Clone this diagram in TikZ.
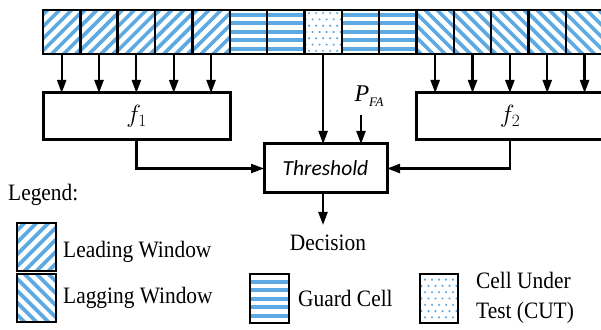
\documentclass[tikz,border=0pt]{standalone}
\usepackage{fontspec}
\setmainfont{Liberation Serif}
\newfontfamily\thfont{Carlito}
\usetikzlibrary{arrows.meta}
\definecolor{hatch}{RGB}{93,170,226}
% slightly condensed serif lettering
\newcommand{\narrowtext}[1]{\scalebox{0.91}[1]{#1}}
\tikzset{
  cell/.style={draw=black, line width=2.5pt, minimum width=37.35pt, minimum height=44pt,
    inner sep=0pt, outer sep=0pt},
  stripe/.style={draw=hatch, line width=3.6pt},
  lead/.style={cell, path picture={
      \foreach \k in {-6,...,6}
        \draw[stripe] ([xshift=\k*12pt]path picture bounding box.center) ++(-40pt,-40pt) -- ++(80pt,80pt);}},
  lag/.style={cell, path picture={
      \foreach \k in {-6,...,6}
        \draw[stripe] ([xshift=\k*12pt]path picture bounding box.center) ++(-40pt,40pt) -- ++(80pt,-80pt);}},
  guard/.style={cell, path picture={
      \foreach \k in {-3,...,3}
        \draw[draw=hatch, line width=4pt] ([yshift=\k*8.5pt]path picture bounding box.center) ++(-30pt,0) -- ++(60pt,0);}},
  cut/.style={cell, path picture={
      \foreach \r in {-3,...,3}
        \foreach \c in {-3,...,3}
          \fill[hatch] ([xshift={\c*7pt+mod(\r+3,2)*3.5pt}, yshift=\r*6.3pt]path picture bounding box.center) circle (1.2pt);}},
  block/.style={draw=black, line width=3pt, inner sep=0pt, outer sep=0pt, minimum height=47pt},
  arr/.style={line width=2.2pt, -{Triangle[length=13pt,width=9pt]}},
  txt/.style={font=\fontsize{23.5}{30}\selectfont, inner sep=0pt},
}
\begin{document}
\begin{tikzpicture}[x=1pt,y=1pt]
  \useasboundingbox (0,0) rectangle (601,329);
  \clip (0,0) rectangle (601,329);

  % row of cells: leading window, guard cells, cell under test, guard cells, lagging window
  \foreach \i/\t in {0/lead,1/lead,2/lead,3/lead,4/lead,5/guard,6/guard,7/cut,
                     8/guard,9/guard,10/lag,11/lag,12/lag,13/lag,14/lag}
    \node[\t] (c\i) at ({43+37.35*(\i+0.5)},297) {};

  % processing blocks
  \node[block, minimum width=187pt] (f1) at (136.5,212.5) {\fontsize{26}{30}\selectfont$f_1$};
  \node[block, minimum width=187pt] (f2) at (510,212.5) {\fontsize{26}{30}\selectfont$f_2$};
  \node[block, minimum width=123pt, minimum height=49pt] (th) at (325.5,160.5)
    {\fontsize{21.5}{26}\selectfont\thfont\itshape Threshold};

  % window cells feed the blocks
  \foreach \i in {0,...,4}
    \draw[arr] (c\i.south) -- (c\i.south |- f1.north);
  \foreach \i in {10,...,14}
    \draw[arr] (c\i.south) -- (c\i.south |- f2.north);

  % cell under test and false-alarm probability into the threshold
  \draw[arr] (c7.south) -- (c7.south |- th.north);
  \coordinate (pfa) at (361,214);
  \node[txt, anchor=south] (pfalab) at (369,222)
    {\fontsize{24}{30}\selectfont\itshape P\raisebox{-0.45ex}{\fontsize{13}{13}\selectfont FA}};
  \draw[arr] (pfa) -- (pfa |- th.north);

  % block outputs into the threshold
  \draw[arr] (f1.south) |- (th.west);
  \draw[arr] (f2.south) |- (th.east);

  % decision output
  \coordinate (dec) at (323,104);
  \draw[arr] (th.south -| dec) -- (dec);
  \node[txt] (declab) at (328,86) {\narrowtext{Decision}};

  % legend
  \node[txt, anchor=west] (leg) at (8,134) {\narrowtext{Legend:}};
  \node[lead, minimum width=39pt, minimum height=48pt] (k1) at (36.5,82) {};
  \node[txt, anchor=west] (k1t) at (63,77) {\narrowtext{Leading Window}};
  \node[lag, minimum width=39pt, minimum height=48pt] (k2) at (36.5,31) {};
  \node[txt, anchor=west] (k2t) at (63,31) {\narrowtext{Lagging Window}};
  \node[guard, minimum width=39pt, minimum height=49pt] (k3) at (269.5,30.5) {};
  \node[txt, anchor=west] (k3t) at (298,31) {\narrowtext{Guard Cell}};
  \node[cut, minimum width=38pt, minimum height=49pt] (k4) at (439,30.5) {};
  \node[txt, anchor=west, align=left] (k4t) at (476,31)
    {\narrowtext{Cell Under}\\\narrowtext{Test (CUT)}};
\end{tikzpicture}
\end{document}
